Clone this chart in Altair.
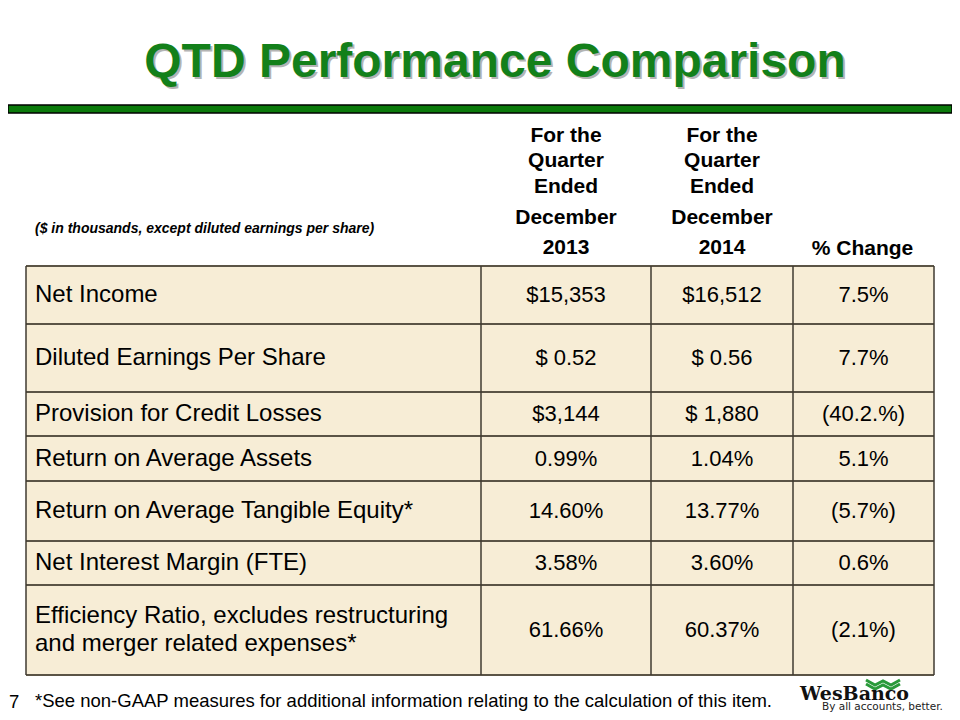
import altair as alt
import pandas as pd

# ---------------- data ----------------
title_text = "QTD Performance Comparison"
units_note = "($ in thousands, except diluted earnings per share)"
header_2013 = ["For the", "Quarter", "Ended", "December", "2013"]
header_2014 = ["For the", "Quarter", "Ended", "December", "2014"]
header_change = "% Change"
metrics = [
    ["Net Income"],
    ["Diluted Earnings Per Share"],
    ["Provision for Credit Losses"],
    ["Return on Average Assets"],
    ["Return on Average Tangible Equity*"],
    ["Net Interest Margin (FTE)"],
    ["Efficiency Ratio, excludes restructuring", "and merger related expenses*"],
]
q4_2013 = ["$15,353", "$ 0.52", "$3,144", "0.99%", "14.60%", "3.58%", "61.66%"]
q4_2014 = ["$16,512", "$ 0.56", "$ 1,880", "1.04%", "13.77%", "3.60%", "60.37%"]
pct_change = ["7.5%", "7.7%", "(40.2.%)", "5.1%", "(5.7%)", "0.6%", "(2.1%)"]
page_number = "7"
footnote = "*See non-GAAP measures for additional information relating to the calculation of this item."
logo_name = "WesBanco"
logo_tagline = "By all accounts, better."

# ---------------- layout (page pixel coordinates) ----------------
W, H = 944, 704
X0, Y0 = 8, 8
xs = alt.Scale(domain=[X0, X0 + W], range=[0, W], nice=False, zero=False)
ys = alt.Scale(domain=[Y0, Y0 + H], range=[0, H], nice=False, zero=False)

col_edges = [26, 481, 651, 793, 934]
row_edges = [266, 324, 392, 436, 481, 541, 585, 675]
header_line_y = [136, 161, 187, 218, 248]
LABEL_LINE_H = 28
FONT = "Liberation Sans"


def X(f):
    return alt.X(f, type="quantitative", scale=xs, axis=None)


def Y(f):
    return alt.Y(f, type="quantitative", scale=ys, axis=None)


layers = []

# green band under the title
band = pd.DataFrame({"x": [X0], "x2": [X0 + W], "y": [105], "y2": [113]})
layers.append(
    alt.Chart(band).mark_rect(color="#0b7a0b", stroke="black", strokeWidth=1.5)
    .encode(x=X("x"), x2=alt.X2("x2"), y=Y("y"), y2=alt.Y2("y2"))
)

# title with shadow
tdf = pd.DataFrame({"x": [495], "y": [63], "t": [title_text]})
layers.append(
    alt.Chart(tdf).mark_text(font=FONT, fontSize=48, fontWeight="bold", color="#b4b4b4",
                             align="center", baseline="middle", dx=2, dy=2)
    .encode(x=X("x"), y=Y("y"), text="t:N")
)
layers.append(
    alt.Chart(tdf).mark_text(font=FONT, fontSize=48, fontWeight="bold", color="#13801a",
                             align="center", baseline="middle")
    .encode(x=X("x"), y=Y("y"), text="t:N")
)

# table background
bg = pd.DataFrame({"x": [col_edges[0]], "x2": [col_edges[-1]], "y": [row_edges[0]], "y2": [row_edges[-1]]})
layers.append(
    alt.Chart(bg).mark_rect(color="#f7edd6")
    .encode(x=X("x"), x2=alt.X2("x2"), y=Y("y"), y2=alt.Y2("y2"))
)

# grid lines
hl = pd.DataFrame({"x": [col_edges[0]] * len(row_edges), "x2": [col_edges[-1]] * len(row_edges), "y": row_edges})
layers.append(
    alt.Chart(hl).mark_rule(color="#5b5446", strokeWidth=2)
    .encode(x=X("x"), x2=alt.X2("x2"), y=Y("y"))
)
vl = pd.DataFrame({"x": col_edges, "y": [row_edges[0]] * len(col_edges), "y2": [row_edges[-1]] * len(col_edges)})
layers.append(
    alt.Chart(vl).mark_rule(color="#3f3a30", strokeWidth=1.5)
    .encode(x=X("x"), y=Y("y"), y2=alt.Y2("y2"))
)

# header texts
hrows = []
for i, (a, b) in enumerate(zip(header_2013, header_2014)):
    hrows.append({"x": (col_edges[1] + col_edges[2]) / 2, "y": header_line_y[i], "t": a})
    hrows.append({"x": (col_edges[2] + col_edges[3]) / 2, "y": header_line_y[i], "t": b})
hrows.append({"x": (col_edges[3] + col_edges[4]) / 2 - 1, "y": header_line_y[-1] + 1, "t": header_change})
hdf = pd.DataFrame(hrows)
layers.append(
    alt.Chart(hdf).mark_text(font=FONT, fontSize=21, fontWeight="bold", color="black",
                             align="center", baseline="middle")
    .encode(x=X("x"), y=Y("y"), text="t:N")
)

# units note
udf = pd.DataFrame({"x": [35], "y": [229], "t": [units_note]})
layers.append(
    alt.Chart(udf).mark_text(font=FONT, fontSize=14, fontWeight="bold", fontStyle="italic",
                             color="black", align="left", baseline="middle")
    .encode(x=X("x"), y=Y("y"), text="t:N")
)

# table body
centers = [(row_edges[i] + row_edges[i + 1]) / 2 for i in range(len(metrics))]
lrows = []
for ri, lines in enumerate(metrics):
    top = centers[ri] - (len(lines) - 1) * LABEL_LINE_H / 2
    for li, line in enumerate(lines):
        lrows.append({"x": 35, "y": top + li * LABEL_LINE_H, "t": line})
ldf = pd.DataFrame(lrows)
layers.append(
    alt.Chart(ldf).mark_text(font=FONT, fontSize=24, color="black", align="left", baseline="middle")
    .encode(x=X("x"), y=Y("y"), text="t:N")
)
vrows = []
for ci, col in enumerate([q4_2013, q4_2014, pct_change]):
    cx = (col_edges[ci + 1] + col_edges[ci + 2]) / 2
    for ri, v in enumerate(col):
        vrows.append({"x": cx, "y": centers[ri], "t": v})
vdf = pd.DataFrame(vrows)
layers.append(
    alt.Chart(vdf).mark_text(font=FONT, fontSize=22, color="black", align="center", baseline="middle")
    .encode(x=X("x"), y=Y("y"), text="t:N")
)

# footer
fdf = pd.DataFrame({"x": [9, 35], "y": [702, 701], "t": [page_number, footnote]})
layers.append(
    alt.Chart(fdf).mark_text(font=FONT, fontSize=18.5, color="black", align="left", baseline="middle")
    .encode(x=X("x"), y=Y("y"), text="t:N")
)

# logo
chev_dx = [0, 9, 17, 25, 34]
chev_dy = [0, 5, 1, 5, 0]
crow = []
for k, oy in enumerate([0, 4]):
    for j, (dx, dy) in enumerate(zip(chev_dx, chev_dy)):
        crow.append({"g": k, "o": j, "x": 866 + dx, "y": 680 + oy + dy})
cdf = pd.DataFrame(crow)
layers.append(
    alt.Chart(cdf).mark_line(color="#2a9a3a", strokeWidth=3, strokeJoin="miter")
    .encode(x=X("x"), y=Y("y"), detail="g:N", order="o:Q")
)
lgdf = pd.DataFrame({"x": [800], "y": [700], "t": [logo_name]})
layers.append(
    alt.Chart(lgdf).mark_text(font="DejaVu Serif", fontSize=19, fontWeight="bold", color="#111111",
                              align="left", baseline="alphabetic")
    .encode(x=X("x"), y=Y("y"), text="t:N")
)
tgdf = pd.DataFrame({"x": [822], "y": [710], "t": [logo_tagline]})
layers.append(
    alt.Chart(tgdf).mark_text(font="DejaVu Sans", fontSize=10.5, color="#222222",
                              align="left", baseline="alphabetic")
    .encode(x=X("x"), y=Y("y"), text="t:N")
)

chart = (
    alt.layer(*layers)
    .properties(width=W, height=H, padding=0, autosize="none", background="white")
    .configure_view(stroke=None)
)
chart.save("out.html", embed_options={"renderer": "svg", "actions": False})
